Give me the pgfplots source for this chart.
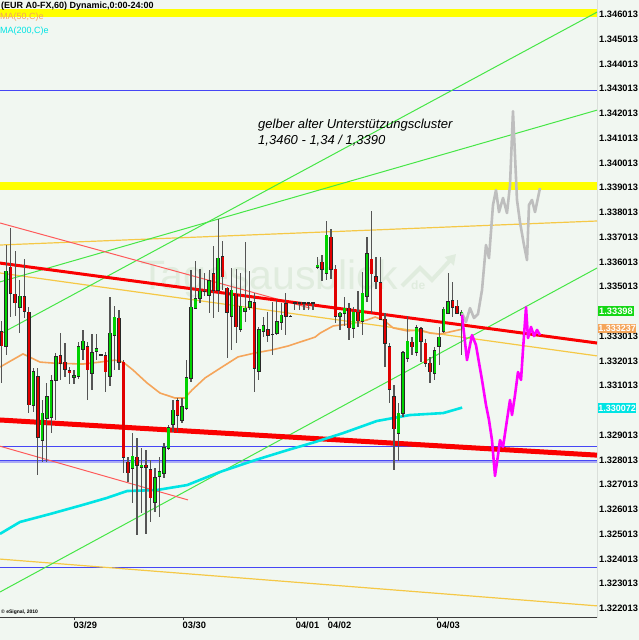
\documentclass[border=0pt]{standalone}
\usepackage{pgfplots}
\pgfplotsset{compat=1.18}
\usepackage{pgfplotstable}
\usepackage{fontspec}
\setmainfont{Liberation Sans}
\usetikzlibrary{arrows.meta}

\definecolor{bg}{RGB}{241,247,241}
\definecolor{wm}{RGB}{224,236,222}
\definecolor{yband}{RGB}{255,255,0}
\definecolor{blueline}{RGB}{70,70,245}
\definecolor{lav}{RGB}{170,170,245}
\definecolor{redthick}{RGB}{250,0,0}
\definecolor{thinred}{RGB}{255,90,90}
\definecolor{gold}{RGB}{245,200,70}
\definecolor{greenline}{RGB}{70,230,70}
\definecolor{ma50}{RGB}{245,165,90}
\definecolor{ma200}{RGB}{0,228,228}
\definecolor{grayproj}{RGB}{190,190,190}
\definecolor{magproj}{RGB}{255,0,255}
\definecolor{upgreen}{RGB}{0,210,0}
\definecolor{downred}{RGB}{225,0,0}
\definecolor{wick}{RGB}{85,85,85}
\definecolor{bodyline}{RGB}{40,40,40}
\definecolor{axisgray}{RGB}{60,60,60}
\definecolor{taggreen}{RGB}{20,215,20}

\pgfplotstableread{
i O H L C
0 1.33313 1.33357 1.33107 1.33256
1 1.33256 1.33664 1.33220 1.33559
2 1.33575 1.33733 1.33373 1.33470
3 1.33466 1.33640 1.33377 1.33430
4 1.33413 1.33523 1.33308 1.33458
5 1.33454 1.33607 1.33369 1.33397
6 1.33393 1.33413 1.32985 1.33018
7 1.33018 1.33167 1.32989 1.33151
8 1.33131 1.33167 1.32735 1.32888
9 1.32876 1.33038 1.32787 1.32985
10 1.32965 1.33107 1.32787 1.33050
11 1.32969 1.33139 1.32904 1.33115
12 1.33119 1.33228 1.32957 1.33212
13 1.33216 1.33308 1.33119 1.33187
14 1.33191 1.33268 1.33131 1.33163
15 1.33155 1.33171 1.33103 1.33147
16 1.33131 1.33159 1.33103 1.33135
17 1.33135 1.33272 1.33123 1.33252
18 1.33244 1.33321 1.33199 1.33276
19 1.33252 1.33272 1.33038 1.33159
20 1.33147 1.33304 1.33078 1.33228
21 1.33236 1.33304 1.33199 1.33244
22 1.33220 1.33224 1.33216 1.33220
23 1.33216 1.33232 1.33070 1.33151
24 1.33135 1.33454 1.33094 1.33308
25 1.33300 1.33417 1.33159 1.33373
26 1.33369 1.33401 1.33159 1.33191
27 1.33191 1.33199 1.32743 1.32807
28 1.32787 1.32807 1.32706 1.32743
29 1.32763 1.32904 1.32622 1.32811
30 1.32807 1.32884 1.32492 1.32775
31 1.32767 1.32844 1.32581 1.32775
32 1.32775 1.32836 1.32496 1.32767
33 1.32755 1.32795 1.32545 1.32642
34 1.32626 1.32763 1.32585 1.32723
35 1.32731 1.32807 1.32565 1.32747
36 1.32743 1.32864 1.32723 1.32844
37 1.32844 1.32937 1.32836 1.32925
38 1.32941 1.33038 1.32908 1.32997
39 1.33034 1.33046 1.32908 1.32977
40 1.32957 1.33046 1.32945 1.33010
41 1.33005 1.33199 1.32997 1.33127
42 1.33127 1.33563 1.33111 1.33413
43 1.33409 1.33599 1.33405 1.33446
44 1.33450 1.33567 1.33430 1.33478
45 1.33478 1.33551 1.33458 1.33478
46 1.33462 1.33563 1.33389 1.33519
47 1.33547 1.33660 1.33369 1.33482
48 1.33482 1.33769 1.33393 1.33611
49 1.33616 1.33680 1.33482 1.33535
50 1.33490 1.33494 1.33207 1.33393
51 1.33377 1.33571 1.33240 1.33482
52 1.33466 1.33567 1.33268 1.33333
53 1.33325 1.33551 1.33313 1.33417
54 1.33397 1.33676 1.33353 1.33409
55 1.33413 1.33559 1.33401 1.33434
56 1.33430 1.33470 1.33070 1.33167
57 1.33155 1.33333 1.33119 1.33321
58 1.33317 1.33373 1.33292 1.33337
59 1.33321 1.33393 1.33272 1.33300
60 1.33304 1.33434 1.33220 1.33304
61 1.33308 1.33442 1.33300 1.33353
62 1.33353 1.33430 1.33321 1.33381
63 1.33426 1.33470 1.33300 1.33377
64 1.33377 1.33381 1.33373 1.33377
65 1.33430 1.33430 1.33401 1.33430
66 1.33430 1.33430 1.33401 1.33430
67 1.33430 1.33430 1.33401 1.33430
68 1.33430 1.33430 1.33401 1.33430
69 1.33430 1.33430 1.33401 1.33430
70 1.33575 1.33616 1.33567 1.33583
71 1.33595 1.33624 1.33519 1.33567
72 1.33551 1.33761 1.33523 1.33704
73 1.33696 1.33729 1.33527 1.33567
74 1.33567 1.33583 1.33349 1.33377
75 1.33377 1.33393 1.33321 1.33389
76 1.33389 1.33454 1.33337 1.33409
77 1.33409 1.33430 1.33280 1.33329
78 1.33329 1.33413 1.33288 1.33393
79 1.33393 1.33478 1.33333 1.33357
80 1.33357 1.33555 1.33300 1.33470
81 1.33458 1.33696 1.33434 1.33628
82 1.33607 1.33801 1.33389 1.33547
83 1.33535 1.33616 1.33486 1.33515
84 1.33511 1.33616 1.33361 1.33365
85 1.33365 1.33389 1.33171 1.33268
86 1.33252 1.33268 1.33026 1.33082
87 1.33050 1.33098 1.32755 1.32921
88 1.32904 1.33026 1.32791 1.32985
89 1.32985 1.33236 1.32969 1.33228
90 1.33207 1.33377 1.33191 1.33276
91 1.33272 1.33292 1.33220 1.33252
92 1.33232 1.33341 1.33216 1.33329
93 1.33325 1.33333 1.33191 1.33276
94 1.33268 1.33284 1.33171 1.33187
95 1.33187 1.33212 1.33107 1.33151
96 1.33147 1.33252 1.33119 1.33236
97 1.33256 1.33333 1.33179 1.33292
98 1.33317 1.33413 1.33308 1.33405
99 1.33389 1.33551 1.33385 1.33434
100 1.33438 1.33515 1.33373 1.33413
101 1.33417 1.33442 1.33385 1.33389
102 1.33381 1.33401 1.33220 1.33393
}\candles

\pgfplotstableread{
i p
-0.38 1.33171
4.72 1.33224
8.49 1.33191
11.37 1.33187
18.03 1.33183
21.8 1.33191
25.12 1.33199
26.9 1.33191
29.11 1.33159
32.2 1.33107
35.1 1.33066
38.4 1.33046
40.6 1.33046
42.2 1.33078
45.1 1.33127
48.85 1.33171
52.4 1.33212
56.2 1.33228
59.9 1.33240
63.5 1.33256
69.5 1.33292
70.6 1.33308
73.5 1.33337
77.2 1.33345
81.0 1.33361
82.8 1.33373
84.6 1.33361
86.8 1.33329
89.9 1.33317
92.8 1.33321
95.0 1.33308
97.2 1.33304
99.4 1.33313
102.1 1.33324
}\maL

\pgfplotstableread{
i p
-0.38 1.32497
4.06 1.32545
10.7 1.32577
18.0 1.32614
23.3 1.32642
27.8 1.32670
34.4 1.32674
41.1 1.32694
48.4 1.32747
56.2 1.32795
63.5 1.32836
69.5 1.32868
75.7 1.32904
83.2 1.32953
90.5 1.32977
97.9 1.32985
102.1 1.33007
}\maS

\pgfplotstableread{
i p
102.06 1.33389
102.95 1.33353
103.84 1.33409
104.72 1.33369
105.61 1.33385
106.5 1.33482
107.38 1.33664
108.05 1.33611
108.94 1.33826
109.6 1.33886
110.27 1.33797
111.16 1.33854
112.04 1.33793
112.71 1.33906
113.37 1.34205
114.26 1.33846
114.92 1.33757
115.81 1.33664
116.48 1.33603
116.92 1.33826
117.58 1.33846
118.25 1.33797
119.36 1.33894
}\projUp

\pgfplotstableread{
i p
102.06 1.33381
103.17 1.33199
104.28 1.33300
105.16 1.33260
106.5 1.33119
107.38 1.33018
108.05 1.32957
108.71 1.32876
109.38 1.32731
110.05 1.32815
110.49 1.32876
111.16 1.32848
112.04 1.32957
112.71 1.33038
113.15 1.32977
113.82 1.33058
114.48 1.33151
115.15 1.33119
115.59 1.33240
116.26 1.33413
116.7 1.33288
117.37 1.33333
118.03 1.33296
118.7 1.33321
119.36 1.33300
}\projDown

\begin{document}
\begin{tikzpicture}
\fill[bg] (0,0) rectangle (639pt,640pt);
% watermark
\node[anchor=base west, inner sep=0pt, text=wm, font=\fontsize{41}{41}\selectfont] at (140pt,350pt) {Tagesausblick};
\node[anchor=base west, inner sep=0pt, text=wm, font=\fontsize{12}{12}\selectfont\bfseries] at (411pt,350pt) {de};
\draw[wm, line width=4pt, -{Triangle[length=10pt,width=12pt]}] (402pt,354pt) -- (420pt,372pt) -- (432pt,360pt) -- (456pt,386pt);

\begin{axis}[
  at={(0pt,23pt)}, anchor=south west,
  scale only axis, width=597pt, height=617pt,
  xmin=-0.38, xmax=132, ymin=1.32161, ymax=1.34654,
  no markers,
  axis line style={draw=none},
  scaled ticks=false,
  /pgf/number format/assume math mode=true,
  xtick={16.03,40.2,65.3,72.4,96.5},
  xticklabels={03/29,03/30,04/01,04/02,04/03},
  xtick pos=bottom,
  ytick pos=right, yticklabel pos=right,
  ytick={1.322013,1.323013,1.324013,1.325013,1.326013,1.327013,1.328013,1.329013,1.331013,1.332013,1.333013,1.335013,1.336013,1.337013,1.338013,1.339013,1.340013,1.341013,1.342013,1.343013,1.344013,1.345013,1.346013},
  yticklabels={1.322013,1.323013,1.324013,1.325013,1.326013,1.327013,1.328013,1.329013,1.331013,1.332013,1.333013,1.335013,1.336013,1.337013,1.338013,1.339013,1.340013,1.341013,1.342013,1.343013,1.344013,1.345013,1.346013},
  tick align=outside,
  major tick length=3pt,
  x tick style={draw=axisgray, line width=0.8pt},
  y tick style={draw=none},
  tick label style={font=\fontsize{9.3}{10}\selectfont\bfseries, text=black},
  xticklabel style={anchor=north west, inner sep=0pt, yshift=-2pt, xshift=-0.5pt},
  yticklabel style={anchor=west, inner sep=0pt, xshift=-1pt, yshift=-1.5pt},
]
% horizontal levels
\addplot[yband, line width=7.5pt, forget plot] coordinates {(-0.38,1.34601) (132,1.34601)};
\addplot[yband, line width=7.5pt, forget plot] coordinates {(-0.38,1.33902) (132,1.33902)};
\addplot[blueline, line width=1pt, forget plot] coordinates {(-0.38,1.34290) (132,1.34290)};
\addplot[blueline, line width=1pt, forget plot] coordinates {(-0.38,1.32848) (132,1.32848)};
\addplot[lav, line width=1.5pt, forget plot] coordinates {(-0.38,1.32787) (132,1.32787)};
\addplot[blueline, line width=1pt, forget plot] coordinates {(-0.38,1.32793) (132,1.32793)};
\addplot[blueline, line width=1pt, forget plot] coordinates {(-0.38,1.32363) (132,1.32363)};
% trend lines
\addplot[gold, line width=1.2pt, forget plot] coordinates {(-0.38,1.33664) (132,1.33761)};
\addplot[gold, line width=1.2pt, forget plot] coordinates {(-0.38,1.33551) (132,1.33216)};
\addplot[gold, line width=1.2pt, forget plot] coordinates {(-0.38,1.32395) (132,1.32206)};
\addplot[greenline, line width=1pt, forget plot] coordinates {(-0.38,1.32262) (132,1.33571)};
\addplot[greenline, line width=1pt, forget plot] coordinates {(-0.38,1.33304) (132,1.34605)};
\addplot[greenline, line width=1pt, forget plot] coordinates {(-0.38,1.33515) (132,1.34209)};
\addplot[thinred, line width=1pt, forget plot] coordinates {(-0.38,1.33753) (68.4,1.33409)};
\addplot[thinred, line width=1pt, forget plot] coordinates {(-0.38,1.32851) (41.3,1.32634)};
\addplot[redthick, line width=3pt, forget plot] coordinates {(-0.38,1.33591) (132,1.33268)};
\addplot[redthick, line width=5pt, forget plot] coordinates {(-0.38,1.32957) (132,1.32815)};
% moving averages
\addplot[ma50, line width=1.6pt, forget plot] table[x=i,y=p] {\maL};
\addplot[ma200, line width=2.6pt, forget plot] table[x=i,y=p] {\maS};
% candles: wicks
\addplot[draw=none, mark=none, forget plot,
  error bars/.cd, y dir=both, y explicit, error mark=none,
  error bar style={draw=wick, line width=1.3pt}]
  table[x=i, y=O, y error plus expr={\thisrow{H}-\thisrow{O}}, y error minus expr={\thisrow{O}-\thisrow{L}}] {\candles};
% bodies outline
\addplot[draw=none, mark=none, forget plot,
  error bars/.cd, y dir=both, y explicit, error mark=none,
  error bar style={draw=bodyline, line width=3.5pt, line cap=butt}]
  table[x=i, y=O, y error plus expr={max(\thisrow{C}-\thisrow{O},0)+0.00002}, y error minus expr={max(\thisrow{O}-\thisrow{C},0)+0.00002}] {\candles};
% bodies up
\addplot[draw=none, mark=none, forget plot,
  error bars/.cd, y dir=both, y explicit, error mark=none,
  error bar style={draw=upgreen, line width=2.3pt, line cap=butt}]
  table[x=i, y=O, y error plus expr={max(\thisrow{C}-\thisrow{O},0)}, y error minus expr={0}] {\candles};
% bodies down
\addplot[draw=none, mark=none, forget plot,
  error bars/.cd, y dir=both, y explicit, error mark=none,
  error bar style={draw=downred, line width=2.3pt, line cap=butt}]
  table[x=i, y=O, y error plus expr={0}, y error minus expr={max(\thisrow{O}-\thisrow{C},0)}] {\candles};
% projections
\addplot[grayproj, line width=2.6pt, line join=round, forget plot] table[x=i,y=p] {\projUp};
\addplot[magproj, line width=2.6pt, line join=round, forget plot] table[x=i,y=p] {\projDown};
% frame
\draw[axisgray, line width=1pt] (rel axis cs:0,0) -- (rel axis cs:1,0) -- (rel axis cs:1,1);
\end{axis}

% header texts
\node[anchor=north west, inner sep=0pt, font=\fontsize{9}{10}\selectfont\bfseries] at (1pt,638.5pt) {(EUR A0-FX,60) Dynamic,0:00-24:00};
\node[anchor=north west, inner sep=0pt, text=ma50, font=\fontsize{9}{10}\selectfont] at (0pt,627pt) {MA(50,C)e};
\node[anchor=north west, inner sep=0pt, text=ma200, font=\fontsize{9}{10}\selectfont] at (0pt,613pt) {MA(200,C)e};
% annotation
\node[anchor=north west, inner sep=0pt, align=left, font=\fontsize{13}{16}\selectfont\itshape] at (258pt,521pt) {gelber alter Unterstützungscluster\\1,3460 - 1,34 / 1,3390};
% copyright
\node[anchor=base west, inner sep=0pt, font=\fontsize{5}{5}\selectfont\bfseries] at (1pt,26pt) {© eSignal, 2010};
% value tags
\node[anchor=west, fill=taggreen, text=white, inner xsep=1.5pt, inner ysep=1.5pt, font=\fontsize{9.3}{10}\selectfont\bfseries] at (597.5pt,329pt) {1.33398};
\node[anchor=west, fill=ma50, text=white, inner xsep=0.6pt, inner ysep=1.2pt, font=\fontsize{9}{10}\selectfont\bfseries] at (597.5pt,311.5pt) {1.333237};
\node[anchor=west, fill=ma200, text=white, inner xsep=0.6pt, inner ysep=1.5pt, font=\fontsize{9}{10}\selectfont\bfseries] at (597.5pt,232pt) {1.330072};
\pgfresetboundingbox
\useasboundingbox (0,0) rectangle (639pt,640pt);
\end{tikzpicture}
\end{document}
